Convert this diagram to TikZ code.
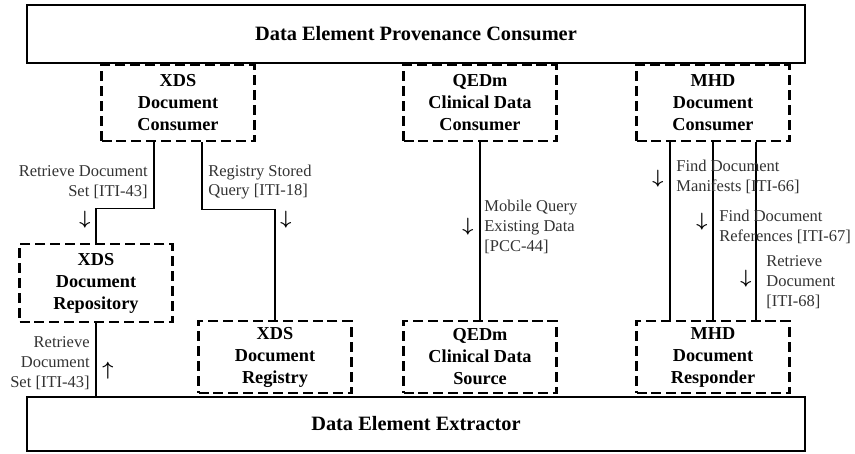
\documentclass[tikz,border=0pt]{standalone}
\usepackage{fontspec}
\setmainfont{Liberation Serif}
\usetikzlibrary{positioning, calc}

\tikzset{
actor/.style={draw=black, line width=1.3pt, dash pattern=on 5.7pt off 2.8pt,
minimum width=3.06cm, minimum height=1.52cm, inner sep=0pt, align=center,
font=\fontsize{10.4}{12.5}\selectfont\bfseries},
system/.style={draw=black, line width=1.1pt, minimum width=15.56cm,
inner sep=0pt, font=\fontsize{11.6}{14}\selectfont\bfseries},
txlabel/.style={inner sep=0pt, text=black!80, font=\fontsize{9.4}{11.3}\selectfont},
dirmark/.style={inner sep=0pt, font=\boldmath\fontsize{10.5}{12}\selectfont},
link/.style={line width=0.7pt}
}

\begin{document}
\begin{tikzpicture}[x=0.02cm, y=-0.02cm]
\useasboundingbox (0,0) rectangle (855,453);
% the two systems
\node[system, minimum height=1.16cm] (provcons) at(416,34){Data Element Provenance Consumer};
\node[system, minimum height=1.08cm] (extractor) at(416,424){Data Element Extractor};
% actors
\node[actor] (xdscons) at(178,103){XDS\\Document\\Consumer};
\node[actor] (qedmcons) at(480,103){QEDm\\Clinical Data\\Consumer};
\node[actor] (mhdcons) at(713,103){MHD\\Document\\Consumer};
\node[actor, minimum height=1.56cm] (xdsrepo) at(96,283){XDS\\Document\\Repository};
\node[actor, minimum height=1.44cm] (xdsreg) at(275,357){XDS\\Document\\Registry};
\node[actor, minimum height=1.44cm] (qedmsrc) at(480,357){QEDm\\Clinical Data\\Source};
\node[actor, minimum height=1.44cm] (mhdresp) at(713,357){MHD\\Document\\Responder};
% transactions
\draw[link] ([xshift=-0.48cm]xdscons.south) -- ++(0,66) -| (xdsrepo.north);
\draw[link] ([xshift=0.48cm]xdscons.south) -- ++(0,67) -| (xdsreg.north);
\draw[link] (qedmcons.south) -- (qedmsrc.north);
\foreach \dx in {-0.86,0,0.86}
\draw[link] ([xshift=\dx cm]mhdcons.south) -- ([xshift=\dx cm]mhdresp.north);
\draw[link] (xdsrepo.south) -- (xdsrepo.south |- extractor.north);
% labels
\node[txlabel, anchor=east, align=right] (rds1) at(148,182){Retrieve Document\\Set [ITI-43]};
\node[dirmark] (rds1dir) at(85,220){$\downarrow$};
\node[txlabel, anchor=west, align=left] (rsq) at(208,182){Registry Stored\\Query [ITI-18]};
\node[dirmark] (rsqdir) at(286,220){$\downarrow$};
\node[txlabel, anchor=west, align=left] (mqed) at(484,227){Mobile Query\\Existing Data\\{}[PCC-44]};
\node[dirmark] (mqeddir) at(468,227){$\downarrow$};
\node[txlabel, anchor=west, align=left] (fdm) at(676,177){Find Document\\Manifests [ITI-66]};
\node[dirmark] (fdmdir) at(658,179){$\downarrow$};
\node[txlabel, anchor=west, align=left] (fdr) at(719,227){Find Document\\References [ITI-67]};
\node[dirmark] (fdrdir) at(702,222){$\downarrow$};
\node[txlabel, anchor=west, align=left] (rd) at(766,282){Retrieve\\Document\\{}[ITI-68]};
\node[dirmark] (rddir) at(746,279){$\downarrow$};
\node[txlabel, anchor=east, align=right] (rds2) at(90,363){Retrieve\\Document\\Set [ITI-43]};
\node[dirmark] (rds2dir) at(108,371){$\uparrow$};
\end{tikzpicture}
\end{document}
